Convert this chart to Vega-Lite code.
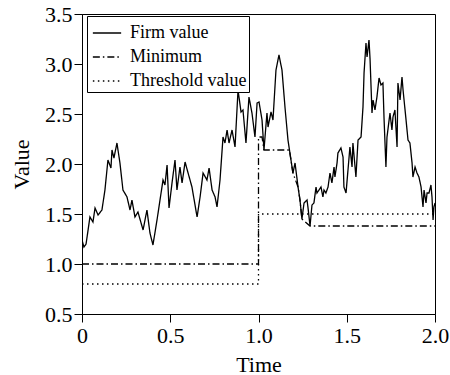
{
  "$schema": "https://vega.github.io/schema/vega-lite/v6.json",
  "width": 353,
  "height": 300,
  "autosize": "none",
  "padding": {"left": 82, "top": 14, "right": 15, "bottom": 61},
  "background": "white",
  "config": {
    "font": "Liberation Serif",
    "view": {"stroke": "black", "strokeWidth": 1},
    "axis": {
      "domainColor": "black", "tickColor": "black", "labelColor": "black", "titleColor": "black",
      "labelFont": "Liberation Serif", "titleFont": "Liberation Serif",
      "labelFontSize": 22, "titleFontSize": 22, "titleFontWeight": "normal",
      "grid": false, "tickSize": 8, "domainWidth": 1, "tickWidth": 1,
      "labelFlush": false, "labelOverlap": false
    }
  },
  "data": {"values": [
    {"series": "Threshold value", "i": 0, "t": 0, "v": 0.8},
    {"series": "Threshold value", "i": 1, "t": 1.0, "v": 0.8},
    {"series": "Threshold value", "i": 2, "t": 1.0, "v": 1.5},
    {"series": "Threshold value", "i": 3, "t": 2.0, "v": 1.5},
    {"series": "Minimum", "i": 0, "t": 0, "v": 1.0},
    {"series": "Minimum", "i": 1, "t": 1.0, "v": 1.0},
    {"series": "Minimum", "i": 2, "t": 1.0, "v": 2.27},
    {"series": "Minimum", "i": 3, "t": 1.02, "v": 2.27},
    {"series": "Minimum", "i": 4, "t": 1.031, "v": 2.14},
    {"series": "Minimum", "i": 5, "t": 1.175, "v": 2.14},
    {"series": "Minimum", "i": 6, "t": 1.184, "v": 2.04},
    {"series": "Minimum", "i": 7, "t": 1.195, "v": 1.91},
    {"series": "Minimum", "i": 8, "t": 1.224, "v": 1.77},
    {"series": "Minimum", "i": 9, "t": 1.235, "v": 1.64},
    {"series": "Minimum", "i": 10, "t": 1.246, "v": 1.45},
    {"series": "Minimum", "i": 11, "t": 1.292, "v": 1.38},
    {"series": "Minimum", "i": 12, "t": 2.0, "v": 1.38},
    {"series": "Firm value", "i": 0, "t": 0, "v": 1.24},
    {"series": "Firm value", "i": 1, "t": 0.011, "v": 1.17},
    {"series": "Firm value", "i": 2, "t": 0.023, "v": 1.2},
    {"series": "Firm value", "i": 3, "t": 0.045, "v": 1.47},
    {"series": "Firm value", "i": 4, "t": 0.062, "v": 1.42},
    {"series": "Firm value", "i": 5, "t": 0.074, "v": 1.56},
    {"series": "Firm value", "i": 6, "t": 0.091, "v": 1.49},
    {"series": "Firm value", "i": 7, "t": 0.113, "v": 1.54},
    {"series": "Firm value", "i": 8, "t": 0.13, "v": 1.74},
    {"series": "Firm value", "i": 9, "t": 0.147, "v": 2.04},
    {"series": "Firm value", "i": 10, "t": 0.164, "v": 1.96},
    {"series": "Firm value", "i": 11, "t": 0.17, "v": 2.14},
    {"series": "Firm value", "i": 12, "t": 0.181, "v": 2.06},
    {"series": "Firm value", "i": 13, "t": 0.198, "v": 2.21},
    {"series": "Firm value", "i": 14, "t": 0.215, "v": 2.01},
    {"series": "Firm value", "i": 15, "t": 0.232, "v": 1.74},
    {"series": "Firm value", "i": 16, "t": 0.255, "v": 1.67},
    {"series": "Firm value", "i": 17, "t": 0.272, "v": 1.54},
    {"series": "Firm value", "i": 18, "t": 0.283, "v": 1.64},
    {"series": "Firm value", "i": 19, "t": 0.3, "v": 1.47},
    {"series": "Firm value", "i": 20, "t": 0.317, "v": 1.52},
    {"series": "Firm value", "i": 21, "t": 0.346, "v": 1.34},
    {"series": "Firm value", "i": 22, "t": 0.368, "v": 1.54},
    {"series": "Firm value", "i": 23, "t": 0.385, "v": 1.31},
    {"series": "Firm value", "i": 24, "t": 0.402, "v": 1.19},
    {"series": "Firm value", "i": 25, "t": 0.425, "v": 1.44},
    {"series": "Firm value", "i": 26, "t": 0.442, "v": 1.64},
    {"series": "Firm value", "i": 27, "t": 0.459, "v": 1.84},
    {"series": "Firm value", "i": 28, "t": 0.47, "v": 1.79},
    {"series": "Firm value", "i": 29, "t": 0.482, "v": 1.99},
    {"series": "Firm value", "i": 30, "t": 0.493, "v": 1.56},
    {"series": "Firm value", "i": 31, "t": 0.51, "v": 1.81},
    {"series": "Firm value", "i": 32, "t": 0.527, "v": 2.04},
    {"series": "Firm value", "i": 33, "t": 0.538, "v": 1.74},
    {"series": "Firm value", "i": 34, "t": 0.555, "v": 1.97},
    {"series": "Firm value", "i": 35, "t": 0.567, "v": 1.81},
    {"series": "Firm value", "i": 36, "t": 0.584, "v": 2.02},
    {"series": "Firm value", "i": 37, "t": 0.601, "v": 1.91},
    {"series": "Firm value", "i": 38, "t": 0.623, "v": 1.77},
    {"series": "Firm value", "i": 39, "t": 0.652, "v": 1.47},
    {"series": "Firm value", "i": 40, "t": 0.669, "v": 1.67},
    {"series": "Firm value", "i": 41, "t": 0.686, "v": 1.91},
    {"series": "Firm value", "i": 42, "t": 0.708, "v": 1.84},
    {"series": "Firm value", "i": 43, "t": 0.72, "v": 1.96},
    {"series": "Firm value", "i": 44, "t": 0.737, "v": 1.74},
    {"series": "Firm value", "i": 45, "t": 0.754, "v": 1.67},
    {"series": "Firm value", "i": 46, "t": 0.765, "v": 1.57},
    {"series": "Firm value", "i": 47, "t": 0.782, "v": 1.84},
    {"series": "Firm value", "i": 48, "t": 0.799, "v": 2.27},
    {"series": "Firm value", "i": 49, "t": 0.81, "v": 2.21},
    {"series": "Firm value", "i": 50, "t": 0.822, "v": 2.34},
    {"series": "Firm value", "i": 51, "t": 0.833, "v": 2.21},
    {"series": "Firm value", "i": 52, "t": 0.85, "v": 2.34},
    {"series": "Firm value", "i": 53, "t": 0.867, "v": 2.17},
    {"series": "Firm value", "i": 54, "t": 0.884, "v": 2.74},
    {"series": "Firm value", "i": 55, "t": 0.901, "v": 2.52},
    {"series": "Firm value", "i": 56, "t": 0.912, "v": 2.54},
    {"series": "Firm value", "i": 57, "t": 0.929, "v": 2.21},
    {"series": "Firm value", "i": 58, "t": 0.946, "v": 2.67},
    {"series": "Firm value", "i": 59, "t": 0.963, "v": 2.51},
    {"series": "Firm value", "i": 60, "t": 0.98, "v": 2.27},
    {"series": "Firm value", "i": 61, "t": 0.992, "v": 2.61},
    {"series": "Firm value", "i": 62, "t": 1.003, "v": 2.62},
    {"series": "Firm value", "i": 63, "t": 1.02, "v": 2.44},
    {"series": "Firm value", "i": 64, "t": 1.031, "v": 2.14},
    {"series": "Firm value", "i": 65, "t": 1.048, "v": 2.51},
    {"series": "Firm value", "i": 66, "t": 1.054, "v": 2.37},
    {"series": "Firm value", "i": 67, "t": 1.071, "v": 2.52},
    {"series": "Firm value", "i": 68, "t": 1.082, "v": 2.44},
    {"series": "Firm value", "i": 69, "t": 1.099, "v": 2.94},
    {"series": "Firm value", "i": 70, "t": 1.116, "v": 3.09},
    {"series": "Firm value", "i": 71, "t": 1.133, "v": 2.94},
    {"series": "Firm value", "i": 72, "t": 1.15, "v": 2.57},
    {"series": "Firm value", "i": 73, "t": 1.167, "v": 2.24},
    {"series": "Firm value", "i": 74, "t": 1.184, "v": 2.04},
    {"series": "Firm value", "i": 75, "t": 1.195, "v": 1.91},
    {"series": "Firm value", "i": 76, "t": 1.207, "v": 2.01},
    {"series": "Firm value", "i": 77, "t": 1.224, "v": 1.77},
    {"series": "Firm value", "i": 78, "t": 1.235, "v": 1.64},
    {"series": "Firm value", "i": 79, "t": 1.246, "v": 1.45},
    {"series": "Firm value", "i": 80, "t": 1.258, "v": 1.61},
    {"series": "Firm value", "i": 81, "t": 1.275, "v": 1.64},
    {"series": "Firm value", "i": 82, "t": 1.28, "v": 1.57},
    {"series": "Firm value", "i": 83, "t": 1.292, "v": 1.38},
    {"series": "Firm value", "i": 84, "t": 1.303, "v": 1.59},
    {"series": "Firm value", "i": 85, "t": 1.314, "v": 1.61},
    {"series": "Firm value", "i": 86, "t": 1.326, "v": 1.77},
    {"series": "Firm value", "i": 87, "t": 1.331, "v": 1.71},
    {"series": "Firm value", "i": 88, "t": 1.343, "v": 1.74},
    {"series": "Firm value", "i": 89, "t": 1.354, "v": 1.77},
    {"series": "Firm value", "i": 90, "t": 1.365, "v": 1.67},
    {"series": "Firm value", "i": 91, "t": 1.371, "v": 1.74},
    {"series": "Firm value", "i": 92, "t": 1.382, "v": 1.71},
    {"series": "Firm value", "i": 93, "t": 1.394, "v": 1.77},
    {"series": "Firm value", "i": 94, "t": 1.405, "v": 1.91},
    {"series": "Firm value", "i": 95, "t": 1.416, "v": 1.81},
    {"series": "Firm value", "i": 96, "t": 1.428, "v": 1.97},
    {"series": "Firm value", "i": 97, "t": 1.433, "v": 1.87},
    {"series": "Firm value", "i": 98, "t": 1.445, "v": 2.01},
    {"series": "Firm value", "i": 99, "t": 1.45, "v": 2.11},
    {"series": "Firm value", "i": 100, "t": 1.467, "v": 2.16},
    {"series": "Firm value", "i": 101, "t": 1.479, "v": 2.07},
    {"series": "Firm value", "i": 102, "t": 1.484, "v": 1.77},
    {"series": "Firm value", "i": 103, "t": 1.496, "v": 1.71},
    {"series": "Firm value", "i": 104, "t": 1.507, "v": 1.94},
    {"series": "Firm value", "i": 105, "t": 1.518, "v": 2.17},
    {"series": "Firm value", "i": 106, "t": 1.53, "v": 1.97},
    {"series": "Firm value", "i": 107, "t": 1.535, "v": 2.21},
    {"series": "Firm value", "i": 108, "t": 1.552, "v": 1.87},
    {"series": "Firm value", "i": 109, "t": 1.564, "v": 2.24},
    {"series": "Firm value", "i": 110, "t": 1.581, "v": 2.27},
    {"series": "Firm value", "i": 111, "t": 1.592, "v": 2.57},
    {"series": "Firm value", "i": 112, "t": 1.598, "v": 2.91},
    {"series": "Firm value", "i": 113, "t": 1.609, "v": 3.21},
    {"series": "Firm value", "i": 114, "t": 1.615, "v": 3.07},
    {"series": "Firm value", "i": 115, "t": 1.626, "v": 3.24},
    {"series": "Firm value", "i": 116, "t": 1.632, "v": 3.05},
    {"series": "Firm value", "i": 117, "t": 1.643, "v": 2.51},
    {"series": "Firm value", "i": 118, "t": 1.649, "v": 2.64},
    {"series": "Firm value", "i": 119, "t": 1.66, "v": 2.54},
    {"series": "Firm value", "i": 120, "t": 1.671, "v": 2.67},
    {"series": "Firm value", "i": 121, "t": 1.683, "v": 2.86},
    {"series": "Firm value", "i": 122, "t": 1.694, "v": 2.79},
    {"series": "Firm value", "i": 123, "t": 1.705, "v": 2.81},
    {"series": "Firm value", "i": 124, "t": 1.711, "v": 2.47},
    {"series": "Firm value", "i": 125, "t": 1.722, "v": 1.97},
    {"series": "Firm value", "i": 126, "t": 1.728, "v": 2.27},
    {"series": "Firm value", "i": 127, "t": 1.745, "v": 2.51},
    {"series": "Firm value", "i": 128, "t": 1.756, "v": 2.34},
    {"series": "Firm value", "i": 129, "t": 1.762, "v": 2.47},
    {"series": "Firm value", "i": 130, "t": 1.773, "v": 2.54},
    {"series": "Firm value", "i": 131, "t": 1.785, "v": 2.17},
    {"series": "Firm value", "i": 132, "t": 1.79, "v": 2.81},
    {"series": "Firm value", "i": 133, "t": 1.802, "v": 2.64},
    {"series": "Firm value", "i": 134, "t": 1.813, "v": 2.87},
    {"series": "Firm value", "i": 135, "t": 1.819, "v": 2.74},
    {"series": "Firm value", "i": 136, "t": 1.836, "v": 2.44},
    {"series": "Firm value", "i": 137, "t": 1.847, "v": 2.24},
    {"series": "Firm value", "i": 138, "t": 1.858, "v": 2.21},
    {"series": "Firm value", "i": 139, "t": 1.87, "v": 2.01},
    {"series": "Firm value", "i": 140, "t": 1.875, "v": 1.87},
    {"series": "Firm value", "i": 141, "t": 1.887, "v": 1.97},
    {"series": "Firm value", "i": 142, "t": 1.898, "v": 1.91},
    {"series": "Firm value", "i": 143, "t": 1.909, "v": 1.87},
    {"series": "Firm value", "i": 144, "t": 1.921, "v": 1.77},
    {"series": "Firm value", "i": 145, "t": 1.932, "v": 1.57},
    {"series": "Firm value", "i": 146, "t": 1.938, "v": 1.74},
    {"series": "Firm value", "i": 147, "t": 1.949, "v": 1.61},
    {"series": "Firm value", "i": 148, "t": 1.955, "v": 1.71},
    {"series": "Firm value", "i": 149, "t": 1.966, "v": 1.71},
    {"series": "Firm value", "i": 150, "t": 1.977, "v": 1.79},
    {"series": "Firm value", "i": 151, "t": 1.983, "v": 1.67},
    {"series": "Firm value", "i": 152, "t": 1.989, "v": 1.44},
    {"series": "Firm value", "i": 153, "t": 1.994, "v": 1.57},
    {"series": "Firm value", "i": 154, "t": 2.0, "v": 1.61}
  ]},
  "mark": {"type": "line", "color": "black", "strokeWidth": 1.3, "clip": true},
  "encoding": {
    "x": {
      "field": "t", "type": "quantitative", "title": "Time",
      "scale": {"domain": [0, 2], "nice": false, "zero": false},
      "axis": {"values": [0, 0.5, 1, 1.5, 2], "labelExpr": "datum.value == 0 ? '0' : format(datum.value, '.1f')", "labelPadding": 3, "titlePadding": 8}
    },
    "y": {
      "field": "v", "type": "quantitative", "title": "Value",
      "scale": {"domain": [0.5, 3.5], "nice": false, "zero": false},
      "axis": {"values": [0.5, 1, 1.5, 2, 2.5, 3, 3.5], "format": ".1f", "labelPadding": 2, "titlePadding": 11}
    },
    "order": {"field": "i", "type": "quantitative"},
    "strokeDash": {
      "field": "series", "type": "nominal",
      "scale": {"domain": ["Firm value", "Minimum", "Threshold value"], "range": [[1, 0], [7, 3, 1.5, 3], [1.5, 3.5]]},
      "legend": {
        "title": null, "orient": "none", "legendX": 5, "legendY": 2,
        "strokeColor": "black", "fillColor": "white", "padding": 2, "symbolOffset": 3, "cornerRadius": 0,
        "labelFont": "Liberation Serif", "labelFontSize": 18, "labelColor": "black",
        "labelOffset": 8, "rowPadding": -1.5, "symbolType": "stroke", "symbolSize": 800,
        "symbolStrokeColor": "black", "symbolStrokeWidth": 1.3
      }
    }
  }
}
